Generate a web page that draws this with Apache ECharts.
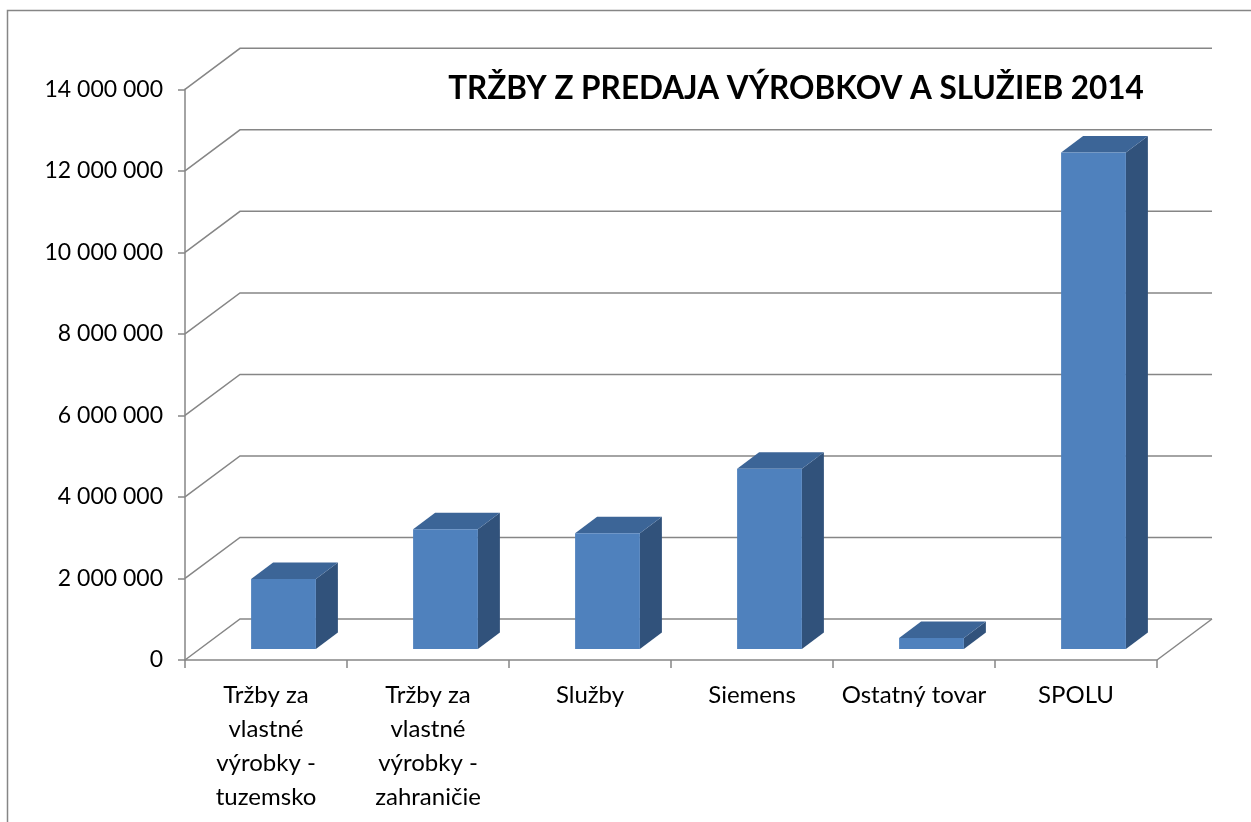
<!DOCTYPE html>
<html>
<head>
<meta charset="utf-8">
<script src="https://cdn.jsdelivr.net/npm/echarts@6/dist/echarts.min.js"></script>
<style>
html,body{margin:0;padding:0;background:#fff;}
#chart{width:1251px;height:822px;}
</style>
</head>
<body>
<div id="chart"></div>
<script>
var titleText = 'TRŽBY Z PREDAJA VÝROBKOV A SLUŽIEB 2014';
var categories = [
  'Tržby za\nvlastné\nvýrobky -\ntuzemsko',
  'Tržby za\nvlastné\nvýrobky -\nzahraničie',
  'Služby',
  'Siemens',
  'Ostatný tovar',
  'SPOLU'
];
var values = [1720000, 2940000, 2840000, 4420000, 270000, 12180000];
var yTicks = [0, 2000000, 4000000, 6000000, 8000000, 10000000, 12000000, 14000000];

var GRID_COLOR = '#868686';
var WALL_DX = 55, WALL_DY = 41;      // depth of the 3D box
var BAR_FX = 17.5, BAR_FY = 11;      // bar front offset from front plane
var BAR_DX = 22, BAR_DY = 16.5;      // bar depth
var FRONT = '#4F81BD', TOP = '#3C6597', SIDE = '#31527B';

function fmt(v) {
  return String(v).replace(/\B(?=(\d{3})+(?!\d))/g, ' ');
}

var chart = echarts.init(document.getElementById('chart'), null, {renderer: 'canvas'});
var option = {
  animation: false,
  backgroundColor: '#ffffff',
  title: {
    text: titleText,
    left: 791,
    top: 67.5,
    textAlign: 'center',
    textStyle: {fontFamily: 'Lato', fontWeight: 'bold', fontSize: 31.5, color: '#000'}
  },
  graphic: [{
    type: 'rect',
    shape: {x: 7.5, y: 10.5, width: 1400, height: 1000},
    style: {fill: 'none', stroke: GRID_COLOR, lineWidth: 1.5},
    silent: true
  }],
  grid: {left: 185, right: 94, top: 89.3, bottom: 162},
  xAxis: {
    type: 'category',
    data: categories,
    axisLine: {lineStyle: {color: GRID_COLOR, width: 1.5}},
    axisTick: {show: true, length: 8, lineStyle: {color: GRID_COLOR, width: 1.5}},
    axisLabel: {
      color: '#000', fontFamily: 'Lato', fontSize: 24, lineHeight: 34,
      margin: 18, interval: 0
    },
    splitLine: {show: false}
  },
  yAxis: {
    type: 'value',
    min: 0, max: 14000000, interval: 2000000,
    axisLine: {show: true, lineStyle: {color: GRID_COLOR, width: 1.5}},
    axisTick: {show: true, length: 7, lineStyle: {color: GRID_COLOR, width: 1.5}},
    axisLabel: {color: '#000', fontFamily: 'Lato', fontSize: 23, margin: 22, formatter: fmt},
    splitLine: {show: false}
  },
  series: [
    {
      type: 'custom',
      name: 'walls',
      silent: true,
      z: 1,
      data: yTicks.map(function (v) { return [0, v]; }),
      renderItem: function (params, api) {
        var cs = params.coordSys;
        var y = api.coord([0, api.value(1)])[1];
        var x0 = cs.x, x1 = cs.x + cs.width;
        var children = [{
          type: 'polyline',
          shape: {points: [[x0, y], [x0 + WALL_DX, y - WALL_DY], [x1 + WALL_DX, y - WALL_DY]]},
          style: {stroke: GRID_COLOR, lineWidth: 1.5, fill: 'none'}
        }];
        if (api.value(1) === 0) {
          children.push({
            type: 'line',
            shape: {x1: x1, y1: y, x2: x1 + WALL_DX, y2: y - WALL_DY},
            style: {stroke: GRID_COLOR, lineWidth: 1.5}
          });
        }
        return {type: 'group', children: children};
      }
    },
    {
      type: 'custom',
      name: 'bars',
      z: 3,
      data: values.map(function (v, i) { return [i, v]; }),
      renderItem: function (params, api) {
        var i = api.value(0), v = api.value(1);
        var top = api.coord([i, v]);
        var bot = api.coord([i, 0]);
        var band = api.size([1, 0])[0];
        var w = band * 0.4;
        var L = top[0] - w / 2 + BAR_FX, R = L + w;
        var T = top[1] - BAR_FY, B = bot[1] - BAR_FY;
        return {
          type: 'group',
          children: [
            {type: 'polygon', shape: {points: [[R, T], [R + BAR_DX, T - BAR_DY], [R + BAR_DX, B - BAR_DY], [R, B]]},
             style: {fill: SIDE}},
            {type: 'polygon', shape: {points: [[L, T], [R, T], [R + BAR_DX, T - BAR_DY], [L + BAR_DX, T - BAR_DY]]},
             style: {fill: TOP}},
            {type: 'rect', shape: {x: L, y: T, width: w, height: B - T},
             style: {fill: FRONT}}
          ]
        };
      }
    }
  ]
};
chart.setOption(option);
</script>
</body>
</html>
